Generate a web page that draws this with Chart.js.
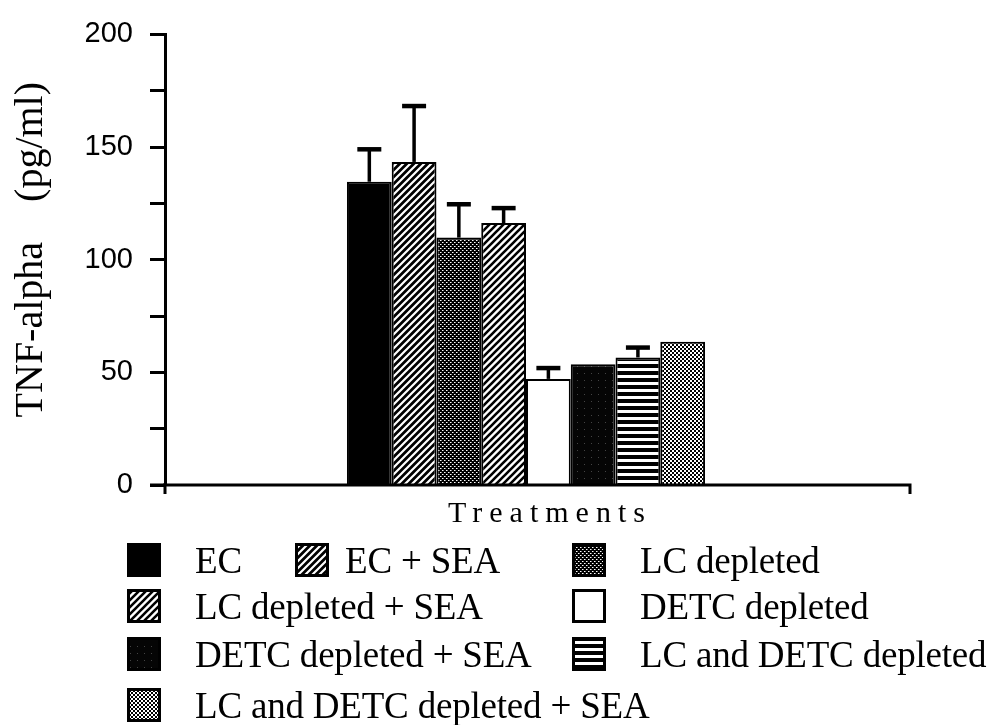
<!DOCTYPE html>
<html><head><meta charset="utf-8">
<script src="https://cdn.jsdelivr.net/npm/chart.js@4.4.0/dist/chart.umd.min.js"></script>
<style>
html,body{margin:0;padding:0;background:#fff;}
#wrap{position:relative;width:993px;height:725px;overflow:hidden;background:#fff;}
#c{position:absolute;left:0;top:0;}
.lg{position:absolute;display:flex;align-items:center;height:46px;font-family:'Liberation Serif','Times New Roman',serif;font-size:37px;letter-spacing:-0.2px;color:#000;white-space:nowrap;}
.lg canvas{display:block;flex:none;}
#xt{position:absolute;left:448px;top:495px;font-family:'Liberation Serif','Times New Roman',serif;font-size:30px;letter-spacing:7px;color:#000;white-space:nowrap;line-height:normal;}
</style></head>
<body>
<div id="wrap">
<canvas id="c" width="993" height="725"></canvas>
<div id="xt">Treatments</div>
</div>
<script>
// ---- data ----
const categories = ['Treatments'];
const seriesLabels = ['EC','EC + SEA','LC depleted','LC depleted + SEA','DETC depleted','DETC depleted + SEA','LC and DETC depleted','LC and DETC depleted + SEA'];
const means  = [134.6, 143.4, 109.8, 116.3, 47.1, 53.6, 56.6, 63.6];
const errors = [14.4, 24.8, 14.8, 6.6, 4.8, 0, 4.4, 0];
const yTickLabels = ['0','50','100','150','200'];

// ---- fill patterns ----
function tile(w,h,draw){const c=document.createElement('canvas');c.width=w;c.height=h;const g=c.getContext('2d');draw(g,w,h);return c;}
function diag(bg,fg,lw){return tile(7,7,(g,w,h)=>{g.fillStyle=bg;g.fillRect(0,0,w,h);g.strokeStyle=fg;g.lineWidth=lw;g.lineCap='square';g.beginPath();g.moveTo(-1,1);g.lineTo(1,-1);g.moveTo(0,h);g.lineTo(w,0);g.moveTo(w-1,h+1);g.lineTo(w+1,h-1);g.stroke();});}
const tiles = [
  tile(4,4,(g)=>{g.fillStyle='#000';g.fillRect(0,0,4,4);}),
  diag('#000','#fff',2.2),
  tile(4,4,(g)=>{g.fillStyle='#000';g.fillRect(0,0,4,4);g.fillStyle='#fff';g.fillRect(0,0,1,1);g.fillRect(2,2,1,1);g.fillStyle='#888';g.fillRect(1,0,1,1);g.fillRect(3,2,1,1);}),
  diag('#fff','#000',2.6),
  tile(4,4,(g)=>{g.fillStyle='#fff';g.fillRect(0,0,4,4);}),
  tile(7,7,(g)=>{g.fillStyle='#050505';g.fillRect(0,0,7,7);g.fillStyle='#444';g.fillRect(3,2,1,1);}),
  tile(4,7,(g)=>{g.fillStyle='#fff';g.fillRect(0,0,4,7);g.fillStyle='#000';g.fillRect(0,0,4,4);}),
  tile(4,4,(g)=>{g.fillStyle='#fff';g.fillRect(0,0,4,4);g.fillStyle='#000';g.fillRect(0,0,2,2);g.fillRect(2,2,2,2);})
];
const ctx = document.getElementById('c').getContext('2d');
const fills = tiles.map(t=>ctx.createPattern(t,'repeat'));

// ---- plugins ----
const axisPlugin = {
  id:'axisExt',
  afterDraw(chart){
    const {ctx, chartArea:a} = chart;
    ctx.save();
    ctx.strokeStyle='#000';ctx.lineWidth=3;ctx.lineCap='butt';
    ctx.beginPath();
    ctx.moveTo(a.left-15,a.bottom);ctx.lineTo(a.right+23,a.bottom);ctx.lineTo(a.right+23,a.bottom+9);
    ctx.moveTo(a.left,a.bottom-2);ctx.lineTo(a.left,a.bottom+9);
    ctx.stroke();
    ctx.restore();
  }
};
const errPlugin = {
  id:'errBars',
  afterDatasetsDraw(chart){
    const {ctx} = chart; const ys = chart.scales.y;
    ctx.save();ctx.strokeStyle='#000';
    chart.data.datasets.forEach((ds,i)=>{
      const e = errors[i]; if(!e) return;
      const bar = chart.getDatasetMeta(i).data[0];
      const yt = ys.getPixelForValue(means[i]+e);
      ctx.lineWidth=3.5;ctx.beginPath();ctx.moveTo(bar.x,bar.y);ctx.lineTo(bar.x,yt);ctx.stroke();
      ctx.lineWidth=4.5;ctx.beginPath();ctx.moveTo(bar.x-12,yt);ctx.lineTo(bar.x+12,yt);ctx.stroke();
    });
    ctx.restore();
  }
};

new Chart(ctx,{
  type:'bar',
  data:{labels:categories,datasets:seriesLabels.map((l,i)=>({label:l,data:[means[i]],backgroundColor:fills[i],borderColor:'#000',borderWidth:2,borderSkipped:'bottom'}))},
  options:{
    responsive:false,animation:false,
    layout:{padding:{left:0,right:106,top:26,bottom:240}},
    plugins:{legend:{display:false},tooltip:{enabled:false}},
    datasets:{bar:{categoryPercentage:0.496,barPercentage:1}},
    scales:{
      x:{ticks:{display:false},grid:{display:false,drawTicks:false},border:{display:false},afterFit(s){s.height=0;}},
      y:{min:0,max:200,
        ticks:{stepSize:25,autoSkip:false,padding:17,color:'#000',font:{family:'Liberation Sans',size:29},
          callback:(v)=>{const s=String(v);return yTickLabels.includes(s)?s:'';}},
        grid:{drawOnChartArea:false,drawTicks:true,tickLength:15,tickWidth:3,tickColor:'#000'},
        border:{display:true,width:3,color:'#000'},
        title:{display:true,text:'  TNF-alpha    (pg/ml)',color:'#000',font:{family:'Liberation Serif',size:40},padding:{top:7}},
        afterFit(s){s.width=165;}
      }
    }
  },
  plugins:[axisPlugin,errPlugin]
});

// ---- legend (HTML) ----
const legendPos = [[127,68,0],[295,50,0],[572,68,0],[127,68,1],[572,68,1],[127,68,2],[572,68,2],[127,68,3]];
const rowCenters = [560,606,654,705];
const wrap = document.getElementById('wrap');
seriesLabels.forEach((l,i)=>{
  const [sx,tOff,row]=legendPos[i];
  const d=document.createElement('div');d.className='lg';
  d.style.left=sx+'px';d.style.top=(rowCenters[row]-23)+'px';
  const sw=document.createElement('canvas');sw.width=34;sw.height=34;
  const g=sw.getContext('2d');g.fillStyle=g.createPattern(tiles[i],'repeat');g.fillRect(0,0,34,34);
  g.strokeStyle='#000';g.lineWidth=3;g.strokeRect(1.5,1.5,31,31);
  const t=document.createElement('span');t.textContent=l;t.style.marginLeft=(tOff-34)+'px';
  d.appendChild(sw);d.appendChild(t);wrap.appendChild(d);
});
</script>
</body></html>
